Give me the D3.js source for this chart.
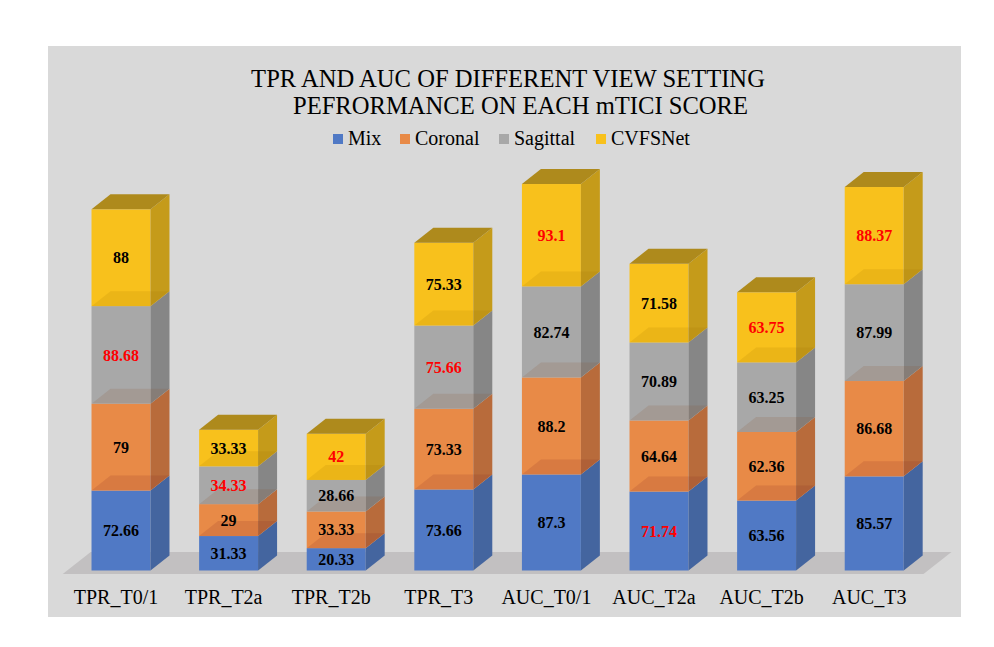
<!DOCTYPE html>
<html>
<head>
<meta charset="utf-8">
<script src="https://cdn.jsdelivr.net/npm/d3@7/dist/d3.min.js"></script>
<style>
  html, body { margin: 0; padding: 0; background: #ffffff; }
  svg { display: block; }
</style>
</head>
<body>
<svg id="chart" width="994" height="647"></svg>
<script>
// ---- data ----
const categories = ["TPR_T0/1", "TPR_T2a", "TPR_T2b", "TPR_T3", "AUC_T0/1", "AUC_T2a", "AUC_T2b", "AUC_T3"];
const seriesNames = ["Mix", "Coronal", "Sagittal", "CVFSNet"];
const mixValues      = [72.66, 31.33, 20.33, 73.66, 87.3, 71.74, 63.56, 85.57];
const coronalValues  = [79, 29, 33.33, 73.33, 88.2, 64.64, 62.36, 86.68];
const sagittalValues = [88.68, 34.33, 28.66, 75.66, 82.74, 70.89, 63.25, 87.99];
const cvfsnetValues  = [88, 33.33, 42, 75.33, 93.1, 71.58, 63.75, 88.37];
const titleLines = ["TPR AND AUC OF DIFFERENT VIEW SETTING", "PEFRORMANCE ON EACH mTICI SCORE"];

// ---- styles ----
const frontColors = ["#5079c5", "#e88a47", "#a8a8a8", "#f8c11c"];
const sideColors  = ["#44659f", "#b86b3b", "#868686", "#c59b1a"];
const topColor    = "#ae8a1c";
const bandColors  = ["#7d1f1f", "#874b23", "#a17100"]; // top face of lower segment seen through the one above
const serif = "'Liberation Serif', 'Times New Roman', Times, serif";

const svg = d3.select("#chart");

// panel background
svg.append("rect").attr("x", 48).attr("y", 46).attr("width", 913).attr("height", 571).attr("fill", "#d9d9d9");

// scales
const x = d3.scaleBand().domain(categories).range([67.2, 928]).paddingInner(0.452).paddingOuter(0.226);
const y = d3.scaleLinear().domain([0, 350]).range([570.5, 185.5]);
const dx = 19, dy = 15;         // bar depth offset
const fdx = 28, fdy = 22;       // floor depth offset
const fox = 4.5, foy = 3.5;     // bars sit inside floor depth

// floor
const fl = x.range()[0] - fox, fr = x.range()[1] - fox;
const fy = y(0) + foy;
svg.append("polygon")
  .attr("points", [[fl, fy], [fr, fy], [fr + fdx, fy - fdy], [fl + fdx, fy - fdy]].map(p => p.join(",")).join(" "))
  .attr("fill", "#c2c0c1");

// stack
const rows = categories.map((c, i) => ({
  cat: c, Mix: mixValues[i], Coronal: coronalValues[i], Sagittal: sagittalValues[i], CVFSNet: cvfsnetValues[i]
}));
const stacked = d3.stack().keys(seriesNames)(rows);

const pts = a => a.map(p => p.join(",")).join(" ");
const gBars = svg.append("g");

categories.forEach((c, ci) => {
  const x0 = x(c), x1 = x0 + x.bandwidth();
  const g = gBars.append("g");
  stacked.forEach((s, si) => {
    const yb = y(s[ci][0]), yt = y(s[ci][1]);
    g.append("rect").attr("x", x0).attr("y", yt).attr("width", x1 - x0).attr("height", yb - yt)
      .attr("fill", frontColors[si]);
    g.append("polygon").attr("points", pts([[x1, yb], [x1, yt], [x1 + dx, yt - dy], [x1 + dx, yb - dy]]))
      .attr("fill", sideColors[si]);
  });
  stacked.forEach((s, si) => {
    if (si === stacked.length - 1) return;
    const yt = y(s[ci][1]);
    g.append("polygon").attr("points", pts([[x0, yt], [x1, yt], [x1 + dx, yt - dy], [x0 + dx, yt - dy]]))
      .attr("fill", bandColors[si]).attr("fill-opacity", 0.15);
  });
  const last = stacked[stacked.length - 1];
  const ytop = y(last[ci][1]);
  g.append("polygon").attr("points", pts([[x0, ytop], [x1, ytop], [x1 + dx, ytop - dy], [x0 + dx, ytop - dy]]))
    .attr("fill", topColor);

  const vals = stacked.map(s => s[ci].data[s.key]);
  const mx = d3.max(vals);
  stacked.forEach((s, si) => {
    const v = s[ci].data[s.key];
    const ym = (y(s[ci][0]) + y(s[ci][1])) / 2;
    g.append("text").attr("x", (x0 + x1) / 2).attr("y", ym).attr("dy", "0.35em")
      .attr("text-anchor", "middle").attr("font-family", serif).attr("font-weight", "bold")
      .attr("font-size", 16).attr("fill", v === mx ? "#ff0000" : "#000000")
      .text(v);
  });
});

// category axis labels
const xAxis = d3.axisBottom(x).tickSize(0).tickPadding(0);
const ax = svg.append("g").attr("transform", `translate(-5, ${y(0) + 33.5})`).call(xAxis);
ax.select(".domain").remove();
ax.selectAll("text").attr("font-family", serif).attr("font-size", 20).attr("fill", "#000").attr("dy", 0);

// title
svg.append("text").attr("x", 508).attr("y", 87).attr("text-anchor", "middle")
  .attr("font-family", serif).attr("font-size", 24.6).attr("fill", "#000").text(titleLines[0]);
svg.append("text").attr("x", 520.5).attr("y", 114).attr("text-anchor", "middle")
  .attr("font-family", serif).attr("font-size", 24.6).attr("fill", "#000").text(titleLines[1]);

// legend
const legendX = [333, 400, 499, 596];
const lg = svg.append("g");
seriesNames.forEach((n, i) => {
  lg.append("rect").attr("x", legendX[i]).attr("y", 134).attr("width", 10).attr("height", 10).attr("fill", frontColors[i]);
  lg.append("text").attr("x", legendX[i] + 15).attr("y", 144.5).attr("font-family", serif).attr("font-size", 20)
    .attr("fill", "#000").text(n);
});
</script>
</body>
</html>
